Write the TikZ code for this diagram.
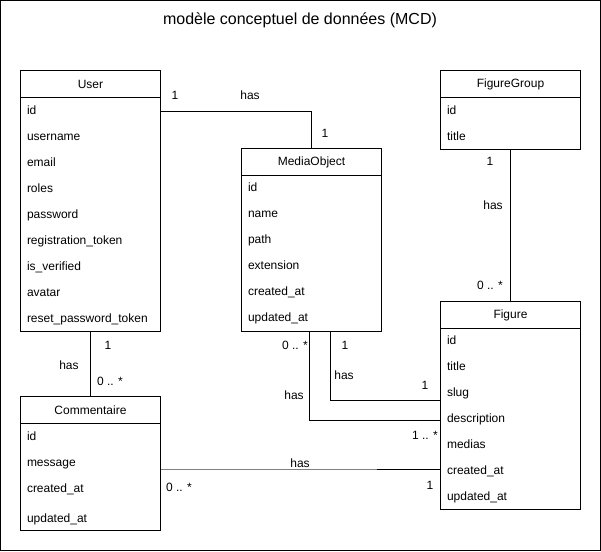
\documentclass[tikz,border=0pt]{standalone}
\usepackage{fontspec}
\setmainfont{Liberation Sans}
\usetikzlibrary{positioning, calc}

\begin{document}
\begin{tikzpicture}
	[x=1pt, y=-1pt, line width=1pt, font=\fontsize{12}{14}\selectfont,
	 entity/.style={draw, minimum width=140pt, minimum height=27pt, inner sep=0pt, outer sep=0pt, anchor=north west},
	 body/.style={draw, minimum width=140pt, inner sep=0pt, outer sep=0pt, below=0pt of #1},
	 attr/.style={anchor=west, inner sep=0pt, text height=9pt, text depth=3pt},
	 card/.style={inner sep=0pt}]
   \useasboundingbox (0,0) rectangle (601,551);
   \draw (0.5,0.5) rectangle (600.5,550.5);
   \node[font=\fontsize{16}{19}\selectfont] (title) at (300,20) {modèle conceptuel de données (MCD)};

   % entities
   \node[entity] (user) at (20.5,70.5) {User};
   \node[body=user, minimum height=234pt] (user-b) {};
   \foreach \a [count=\i] in {id, username, email, roles, password, registration\_token, is\_verified, avatar, reset\_password\_token}
      \node[attr] (user-\i) at ($(user-b.north west)+(6,{14+26*(\i-1)})$) {\a};

   \node[entity] (media) at (241.5,148.5) {MediaObject};
   \node[body=media, minimum height=156pt] (media-b) {};
   \foreach \a [count=\i] in {id, name, path, extension, created\_at, updated\_at}
      \node[attr] (media-\i) at ($(media-b.north west)+(6,{13+26*(\i-1)})$) {\a};

   \node[entity] (group) at (440.5,70.5) {FigureGroup};
   \node[body=group, minimum height=52pt] (group-b) {};
   \foreach \a [count=\i] in {id, title}
      \node[attr] (group-\i) at ($(group-b.north west)+(6,{14+26*(\i-1)})$) {\a};

   \node[entity] (fig) at (440.5,301.5) {Figure};
   \node[body=fig, minimum height=181pt] (fig-b) {};
   \foreach \a [count=\i] in {id, title, slug, description, medias, created\_at, updated\_at}
      \node[attr] (fig-\i) at ($(fig-b.north west)+(6,{13+26*(\i-1)})$) {\a};

   \node[entity] (comm) at (20.5,396.5) {Commentaire};
   \node[body=comm, minimum height=107pt] (comm-b) {};
   \foreach \a/\dy [count=\i] in {id/14, message/40, created\_at/66, updated\_at/96}
      \node[attr] (comm-\i) at ($(comm-b.north west)+(6,\dy)$) {\a};

   % connectors
   \draw (user-1 -| user-b.east) -| (media.north);
   \draw (user-b.south) -- (comm.north);
   \draw (group-b.south) -- (fig.north);
   \draw ([xshift=-2pt]media-b.south) |- ($(fig-b.west |- fig-4)+(0,1)$);
   \draw ([xshift=19pt]media-b.south) |- ($(fig-b.west |- fig-3)+(0,7)$);
   \coordinate (mid) at ($(fig-b.west |- fig-6)+(-64,-2)$);
   \draw[gray] (comm-b.east |- mid) -- (mid);
   \draw (mid) -- (fig-b.west |- mid);

   % cardinalities
   \node[card] (c1) at (175,95) {1};
   \node[card] (h1) at (250,95) {has};
   \node[card] (c2) at (325,133) {1};
   \node[card] (c3) at (108,345) {1};
   \node[card] (h2) at (69,365) {has};
   \node[card] (c4) at (110,381) {0 .. *};
   \node[card] (c5) at (490,161) {1};
   \node[card] (h3) at (493,205) {has};
   \node[card] (c6) at (490,285) {0 .. *};
   \node[card] (c7) at (345,345) {1};
   \node[card] (h4) at (344,375) {has};
   \node[card] (c8) at (425,385) {1};
   \node[card] (c9) at (295,345) {0 .. *};
   \node[card] (h5) at (294,395) {has};
   \node[card] (c10) at (425,435) {1 .. *};
   \node[card] (h6) at (300,463) {has};
   \node[card] (c11) at (179,487) {0 .. *};
   \node[card] (c12) at (430,485) {1};
\end{tikzpicture}
\end{document}
